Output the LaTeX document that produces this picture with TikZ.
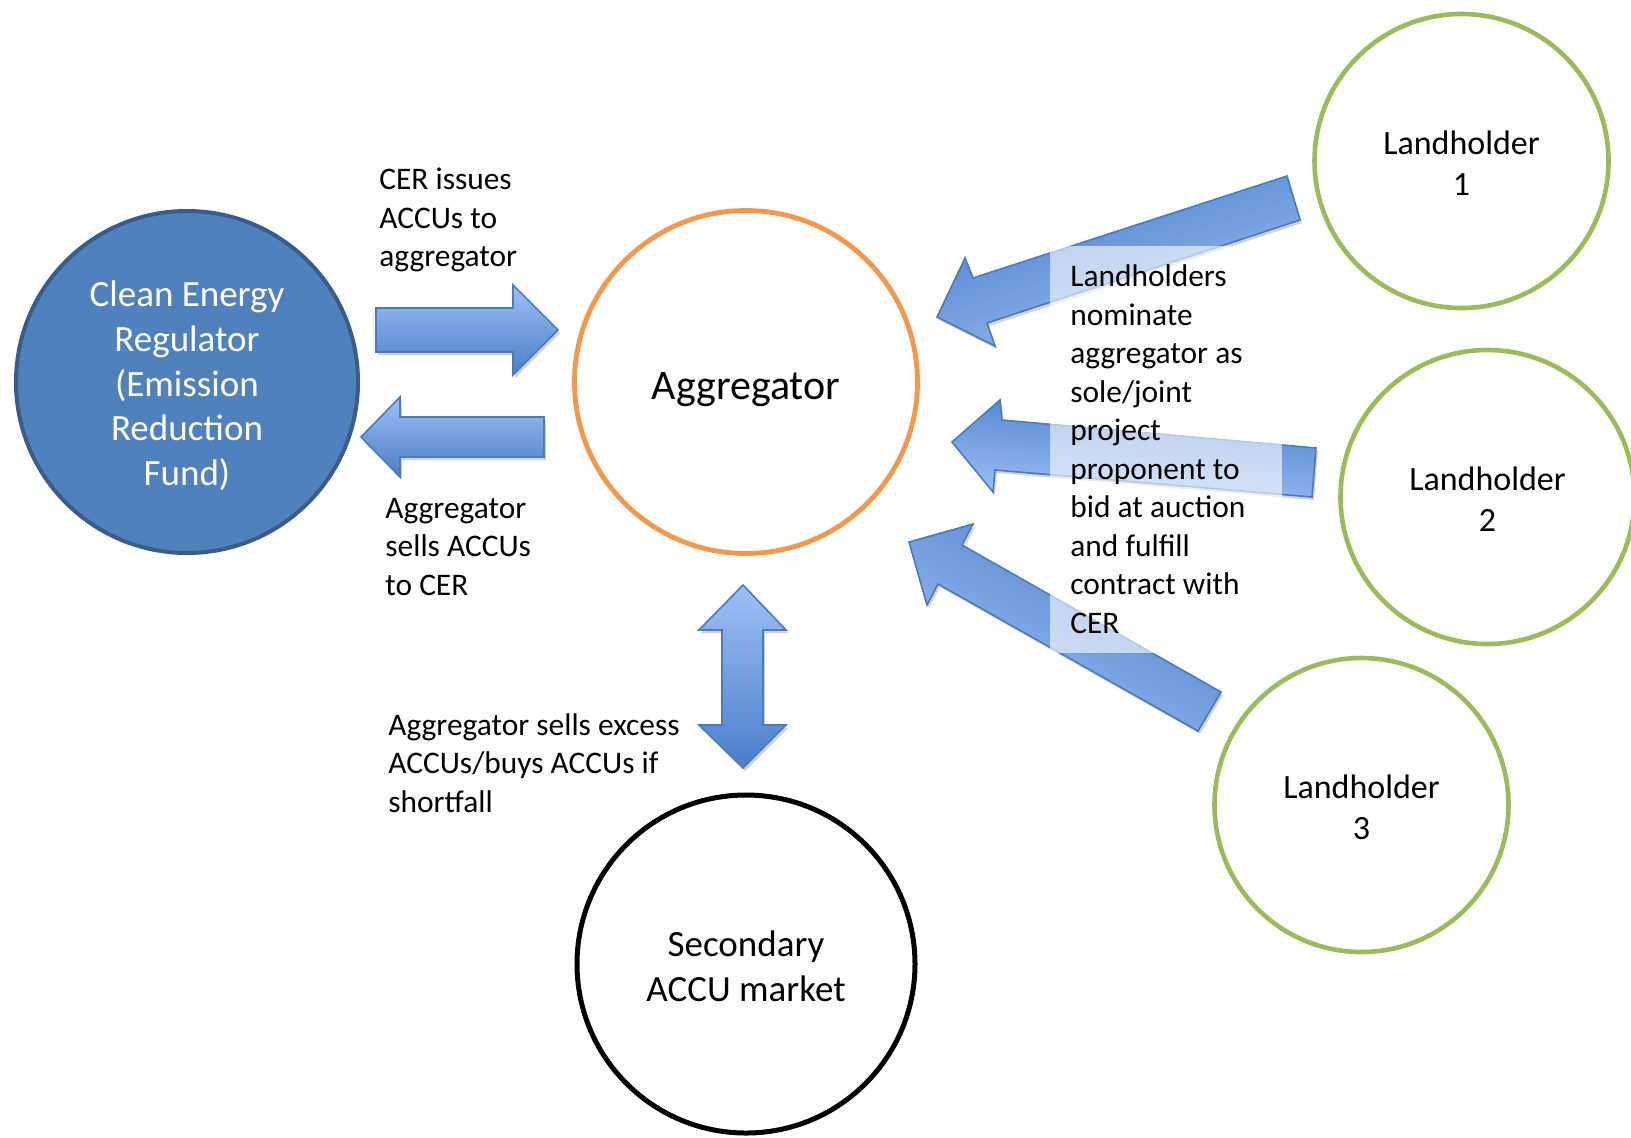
\documentclass[tikz,border=0pt]{standalone}
\usepackage{fontspec}
\setmainfont{Carlito}
\definecolor{cerfill}{HTML}{4F81BD}
\definecolor{cerdraw}{HTML}{385D8A}
\definecolor{aggor}{HTML}{F79646}
\definecolor{lhgreen}{HTML}{9BBB59}
\definecolor{arlight}{HTML}{9DC0F4}
\definecolor{ardark}{HTML}{4A7ECA}
\definecolor{arline}{HTML}{4A7BBE}
\newcommand{\ctxt}[2]{\raisebox{#1}[\height][\depth]{\begin{tabular}{@{}c@{}}#2\end{tabular}}}
\begin{document}
\begin{tikzpicture}[x=0.5pt,y=-0.5pt,
  circ/.style={circle, inner sep=0pt, align=center},
  cer/.style={circ, minimum size=171pt, fill=cerfill, draw=cerdraw, line width=2pt, text=white, font=\fontsize{18.5}{22.3}\selectfont},
  agg/.style={circ, minimum size=171.5pt, draw=aggor, line width=2.4pt, font=\fontsize{21}{25}\selectfont},
  sec/.style={circ, minimum size=169pt, draw=black, line width=2.5pt, font=\fontsize{18.5}{22.3}\selectfont},
  lh/.style={circ, minimum size=147pt, draw=lhgreen, line width=2.3pt, font=\fontsize{17}{20.3}\selectfont},
  lbl/.style={align=left, inner sep=0pt, anchor=west, font=\fontsize{15.7}{19.25}\selectfont},
  arshadow/.style={preaction={fill=black, fill opacity=0.18, draw=none, transform canvas={xshift=1pt,yshift=-1.5pt}}},
  blockarrow/.style={arshadow, draw=arline, line width=0.8pt, line join=miter},
  lightup/.style={blockarrow, top color=arlight, bottom color=ardark, shading angle=#1},
  darkup/.style={blockarrow, top color=ardark, bottom color=arlight, shading angle=#1}
]
\clip (0,0) rectangle (1631,1137);
\fill[white] (0,0) rectangle (1631,1137);

% circles
\node[cer] (cer) at (187,382) {\ctxt{-2.6pt}{Clean Energy\\Regulator\\(Emission\\Reduction\\Fund)}};
\node[agg] (agg) at (746,382) {\raisebox{-3.6pt}[\height][\depth]{Aggregator}};
\node[sec] (sec) at (746,964) {\ctxt{-3pt}{Secondary\\ACCU market}};
\node[lh] (lh1) at (1461.5,161) {\ctxt{-3pt}{Landholder\\1}};
\node[lh] (lh2) at (1487.5,497) {\ctxt{-3pt}{Landholder\\2}};
\node[lh] (lh3) at (1361.5,805) {\ctxt{-3pt}{Landholder\\3}};

% block arrows between CER and aggregator
\shadedraw[lightup=0] (376,308) -- (513,308) -- (513,285) -- (558,330) -- (513,375) -- (513,352) -- (376,352) -- cycle;
\shadedraw[lightup=0] (544,417) -- (400,417) -- (400,397) -- (361,437) -- (400,477) -- (400,457) -- (544,457) -- cycle;
% double arrow to secondary market
\shadedraw[lightup=0] (743,585) -- (786,630) -- (763,630) -- (763,725) -- (786,725) -- (743,768) -- (699,725) -- (722,725) -- (722,630) -- (699,630) -- cycle;
% landholder arrows
\shadedraw[darkup=18.3] (937,317) -- (965,258) -- (973,278) -- (1287,176) -- (1300,220) -- (987,323) -- (995,346) -- cycle;
\shadedraw[darkup=-4.7] (952,442) -- (1000,400) -- (1002,420) -- (1316,448) -- (1312,497) -- (995,470) -- (993,492) -- cycle;
\shadedraw[darkup=-29.3] (909,542) -- (973,524) -- (962,545) -- (1221,692) -- (1198,731) -- (938,584) -- (927,605) -- cycle;

% translucent text box
\node[fill=white, fill opacity=0.6, minimum width=116pt, minimum height=203.5pt, anchor=north west, inner sep=0pt] (tbox) at (1050,246) {};

% labels
\node[lbl] (l1) at (379,220) {CER issues\\ACCUs to\\aggregator};
\node[lbl] (l2) at (385,547) {Aggregator\\sells ACCUs\\to CER};
\node[lbl] (l3) at (388,763) {Aggregator sells excess\\ACCUs/buys ACCUs if\\shortfall};
\node[lbl] (l4) at (1070,449) {Landholders\\nominate\\aggregator as\\sole/joint\\project\\proponent to\\bid at auction\\and fulfill\\contract with\\CER};
\end{tikzpicture}
\end{document}
